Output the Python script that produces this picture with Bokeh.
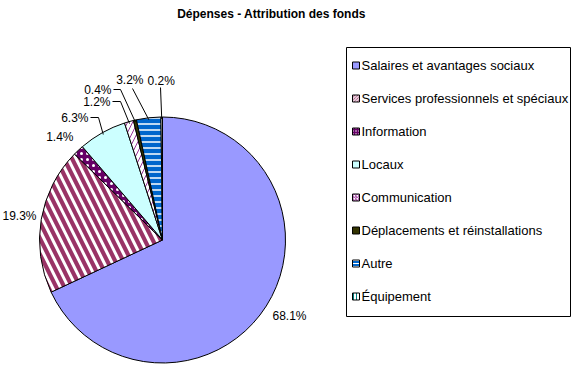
import math
from bokeh.plotting import figure
from bokeh.models import Range1d, ColumnDataSource
from bokeh.core.properties import value
from bokeh.embed import file_html
from bokeh.resources import INLINE

# ---- data ----
title_text = "Dépenses - Attribution des fonds"
categories = [
    "Salaires et avantages sociaux",
    "Services professionnels et spéciaux",
    "Information",
    "Locaux",
    "Communication",
    "Déplacements et réinstallations",
    "Autre",
    "Équipement",
]
shares = [68.1, 19.3, 1.4, 6.3, 1.2, 0.4, 3.2, 0.2]
labels = ["68.1%", "19.3%", "1.4%", "6.3%", "1.2%", "0.4%", "3.2%", "0.2%"]

# ---- styles ----
fills = ["#9999FF", "#993366", "#660066", "#CCFFFF", "#FFFFFF", "#333300", "#0066CC", "#FFFFFF"]
hatches = ["blank", "\\", ".", "blank", "/", "blank", "-", "|"]
hatch_colors = ["white", "white", "white", "white", "#993399", "white", "white", "#008080"]
hatch_scales = [8, 16, 6, 8, 10, 8, 6, 6]
hatch_weights = [1, 3, 1.5, 1, 1, 1, 1.5, 2]

W, H = 576, 374
FONT = "Liberation Sans"


def sx(x):  # picture px -> data x
    return x


def sy(y):  # picture px -> data y
    return H - y


p = figure(width=W, height=H, x_range=Range1d(0, W), y_range=Range1d(0, H),
           output_backend="svg", toolbar_location=None,
           x_axis_location=None, y_axis_location=None, min_border=0)
p.outline_line_color = None
p.xgrid.visible = False
p.ygrid.visible = False
p.background_fill_color = "white"
p.border_fill_color = "white"

# ---- pie ----
cx, cy, R = sx(162), sy(239.5), 123
total = sum(shares)
starts, ends, mids = [], [], []
c = 0.0
for v in shares:
    c0 = c
    c1 = c + v / total
    starts.append(math.pi / 2 - 2 * math.pi * c1)
    ends.append(math.pi / 2 - 2 * math.pi * c0)
    mids.append(math.pi / 2 - 2 * math.pi * (c0 + c1) / 2)
    c = c1

src = ColumnDataSource(dict(
    x=[cx] * len(shares), y=[cy] * len(shares), start=starts, end=ends,
    fill=fills, hatch=hatches, hcol=hatch_colors, hscale=hatch_scales, hw=hatch_weights,
))
p.wedge(x="x", y="y", radius=R, start_angle="start", end_angle="end", source=src,
        fill_color="fill", hatch_pattern="hatch", hatch_color="hcol",
        hatch_scale="hscale", hatch_weight="hw",
        line_color="black", line_width=1)

# ---- labels (layout: picture positions of text anchors) ----
label_layout = [
    (272, 315, "left"),
    (36, 215, "right"),
    (73, 136, "right"),
    (88, 117, "right"),
    (110, 101, "right"),
    (111, 89, "right"),
    (143, 79, "right"),
    (147, 80, "left"),
]
leader_layout = [
    None, None, None,
    [(90, 117), (98, 117)],
    [(112, 101), (120, 101)],
    [(113, 89), (120, 89)],
    [(132, 88)],
    [(160, 87)],
]
for i, lab in enumerate(labels):
    tx, ty, al = label_layout[i]
    p.text(x=[sx(tx)], y=[sy(ty)], text=[lab], text_font=value(FONT),
           text_font_size="12px", text_align=al, text_baseline="middle",
           text_color="black")
    lead = leader_layout[i]
    if lead:
        ex = cx + (R - 2) * math.cos(mids[i])
        ey = cy + (R - 2) * math.sin(mids[i])
        xs = [sx(a) for a, b in lead] + [ex]
        ys = [sy(b) for a, b in lead] + [ey]
        p.line(xs, ys, line_color="black", line_width=1)

# ---- title ----
p.text(x=[sx(271)], y=[sy(13)], text=[title_text], text_font=value(FONT),
       text_font_size="12px", text_font_style="bold", text_align="center",
       text_baseline="middle", text_color="black")

# ---- legend (manual) ----
lx0, lx1, ly0, ly1 = 346, 570, 47, 316
p.quad(left=[sx(lx0)], right=[sx(lx1)], top=[sy(ly0)], bottom=[sy(ly1)],
       fill_color="white", line_color="black", line_width=1)
row0, pitch = 65, 33
for i, cat in enumerate(categories):
    yy = row0 + i * pitch
    p.rect(x=[sx(355.5)], y=[sy(yy)], width=7, height=7,
           fill_color=fills[i], hatch_pattern=hatches[i], hatch_color=hatch_colors[i],
           hatch_scale=3, hatch_weight=1,
           line_color="black", line_width=1)
    p.text(x=[sx(361)], y=[sy(yy)], text=[cat], text_font=value(FONT),
           text_font_size="13px", text_align="left", text_baseline="middle",
           text_color="black")

open("out.html", "w").write(file_html(p, INLINE))
